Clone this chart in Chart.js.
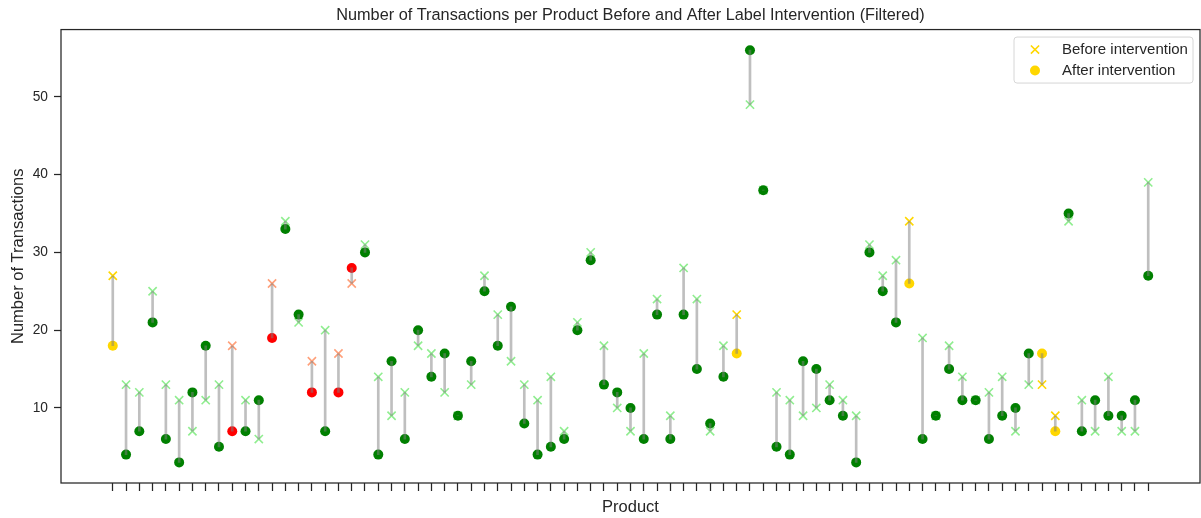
<!DOCTYPE html>
<html>
<head>
<meta charset="utf-8">
<title>Transactions before and after label intervention</title>
<script src="https://cdn.jsdelivr.net/npm/chart.js@4.4.0/dist/chart.umd.min.js"></script>
<style>
  html, body { margin: 0; padding: 0; background: #fff; }
  canvas { display: block; }
</style>
</head>
<body>
<canvas id="myChart" width="1201" height="518"></canvas>
<script>
// transactions per product, before and after the label went up
const before = [
    27, 13, 12, 25, 13, 11, 7, 11, 13, 18, 11, 6, 26, 34, 21, 16, 20, 17, 26, 31,
    14, 9, 12, 18, 17, 12, 9, 13, 27, 22, 16, 13, 11, 14, 7, 21, 30, 18, 10, 7,
    17, 24, 9, 28, 24, 7, 18, 22, 49, 38, 12, 11, 9, 10, 13, 11, 9, 31, 27, 29,
    34, 19, 9, 18, 14, 11, 12, 14, 7, 13, 13, 9, 34, 11, 7, 14, 7, 7, 39
]
const after = [
    18, 4, 7, 21, 6, 3, 12, 18, 5, 7, 7, 11, 19, 33, 22, 12, 7, 12, 28, 30,
    4, 16, 6, 20, 14, 17, 9, 16, 25, 18, 23, 8, 4, 5, 6, 20, 29, 13, 12, 10,
    6, 22, 6, 22, 15, 8, 14, 17, 56, 38, 5, 4, 16, 15, 11, 9, 3, 30, 25, 21,
    26, 6, 9, 15, 11, 11, 6, 9, 10, 17, 17, 7, 35, 7, 11, 9, 9, 11, 27
]
// traffic-light label each product carries
const labelType = [
    'amber', 'green', 'green', 'green', 'green', 'green', 'green', 'green', 'green', 'red',
    'green', 'green', 'red', 'green', 'green', 'red', 'green', 'red', 'red', 'green',
    'green', 'green', 'green', 'green', 'green', 'green', 'green', 'green', 'green', 'green',
    'green', 'green', 'green', 'green', 'green', 'green', 'green', 'green', 'green', 'green',
    'green', 'green', 'green', 'green', 'green', 'green', 'green', 'amber', 'green', 'green',
    'green', 'green', 'green', 'green', 'green', 'green', 'green', 'green', 'green', 'green',
    'amber', 'green', 'green', 'green', 'green', 'green', 'green', 'green', 'green', 'green',
    'amber', 'amber', 'green', 'green', 'green', 'green', 'green', 'green', 'green'
]
const yTicks = [10, 20, 30, 40, 50]

const palette = {
    green: { before: '#90ee90', after: '#008000' },
    amber: { before: '#ffd700', after: '#ffd700' },
    red:   { before: '#ffa07a', after: '#ff0000' }
}
const ink = '#262626'
const fontFamily = "'Liberation Sans', Arial, Helvetica, sans-serif"

Chart.defaults.font.family = fontFamily
Chart.defaults.color = ink

// box around the whole axes, matplotlib style
const spines = {
    id: 'spines',
    afterLayout(chart) {
        // centre the title over the plot instead of the canvas
        const a = chart.chartArea
        if (chart.titleBlock) {
            chart.titleBlock.left = a.left
            chart.titleBlock.right = a.right
        }
    },
    afterDraw(chart) {
        const { ctx, chartArea: a } = chart
        ctx.save()
        ctx.strokeStyle = ink
        ctx.lineWidth = 1.25
        ctx.strokeRect(a.left, a.top, a.right - a.left, a.bottom - a.top)
        ctx.restore()
    }
}

// framed legend in the upper right corner of the plot
const cornerLegend = {
    id: 'cornerLegend',
    afterDraw(chart) {
        const { ctx, chartArea: a } = chart
        const w = 179, h = 46
        const x0 = a.right - 7 - w
        const y0 = a.top + 7.5
        ctx.save()
        ctx.beginPath()
        ctx.roundRect(x0, y0, w, h, 3)
        ctx.fillStyle = 'rgba(255,255,255,0.8)'
        ctx.fill()
        ctx.strokeStyle = '#d6d6d6'
        ctx.lineWidth = 1
        ctx.stroke()

        const rows = [chart.data.datasets[1], chart.data.datasets[2]]
        rows.forEach((ds, i) => {
            const cy = y0 + 12.5 + i * 21
            const col = i === 0 ? ds.pointBorderColor[0] : ds.pointBackgroundColor[0]
            ctx.fillStyle = col
            ctx.strokeStyle = col
            ctx.lineWidth = ds.pointBorderWidth
            Chart.helpers.drawPoint(ctx, {
                pointStyle: ds.pointStyle,
                radius: ds.pointRadius,
                borderWidth: ds.pointBorderWidth,
                rotation: 0
            }, x0 + 21, cy)
            ctx.fillStyle = ink
            ctx.font = '15px ' + fontFamily
            ctx.textBaseline = 'middle'
            ctx.textAlign = 'left'
            ctx.fillText(ds.label, x0 + 48, cy + 0.5)
        })
        ctx.restore()
    }
}

const ctx = document.getElementById('myChart')
const myChart = new Chart(ctx, {
    type: 'scatter',
    data: {
        datasets: [{
            type: 'bar',
            label: 'change',
            data: before.map((b, i) => ({ x: i, y: [b, after[i]] })),
            backgroundColor: 'rgba(128,128,128,0.5)',
            borderWidth: 0,
            barThickness: 2,
            order: 0
        }, {
            label: 'Before intervention',
            data: before.map((b, i) => ({ x: i, y: b })),
            pointStyle: 'crossRot',
            pointRadius: 5.8,
            pointBorderWidth: 1.6,
            pointBorderColor: labelType.map((t) => palette[t].before),
            pointBackgroundColor: labelType.map((t) => palette[t].before),
            order: 2
        }, {
            label: 'After intervention',
            data: after.map((v, i) => ({ x: i, y: v })),
            pointStyle: 'circle',
            pointRadius: 5,
            pointBorderWidth: 0,
            pointBackgroundColor: labelType.map((t) => palette[t].after),
            pointBorderColor: labelType.map((t) => palette[t].after),
            order: 1
        }]
    },
    options: {
        responsive: false,
        animation: false,
        events: [],
        layout: { autoPadding: false, padding: { right: 1 } },
        plugins: {
            legend: { display: false },
            tooltip: { enabled: false },
            title: {
                display: true,
                text: 'Number of Transactions per Product Before and After Label Intervention (Filtered)',
                color: ink,
                font: { size: 16.3, weight: 'normal' },
                padding: { top: 6, bottom: 4 }
            }
        },
        scales: {
            x: {
                type: 'linear',
                min: -3.9,
                max: 81.9,
                offset: false,
                afterBuildTicks: (scale) => {
                    scale.ticks = before.map((_, i) => ({ value: i }))
                },
                afterFit: (scale) => { scale.height = 35 },
                ticks: { display: false, autoSkip: false },
                grid: {
                    offset: false,
                    drawOnChartArea: false,
                    drawTicks: true,
                    tickLength: 8,
                    tickWidth: 1.25,
                    tickColor: ink
                },
                border: { display: false },
                title: {
                    display: true,
                    text: 'Product',
                    color: ink,
                    font: { size: 16.5 },
                    padding: { top: 0, bottom: 1 }
                }
            },
            y: {
                min: 0.35,
                max: 58.65,
                afterBuildTicks: (scale) => {
                    scale.ticks = yTicks.map((v) => ({ value: v }))
                },
                afterFit: (scale) => { scale.width = 61 },
                ticks: { font: { size: 13.75 }, color: ink, padding: 6 },
                grid: {
                    drawOnChartArea: false,
                    drawTicks: true,
                    tickLength: 7,
                    tickWidth: 1.25,
                    tickColor: ink
                },
                border: { display: false },
                title: {
                    display: true,
                    text: 'Number of Transactions',
                    color: ink,
                    font: { size: 16.5 },
                    padding: { top: 9, bottom: 0 }
                }
            }
        }
    },
    plugins: [spines, cornerLegend]
})
</script>
</body>
</html>
